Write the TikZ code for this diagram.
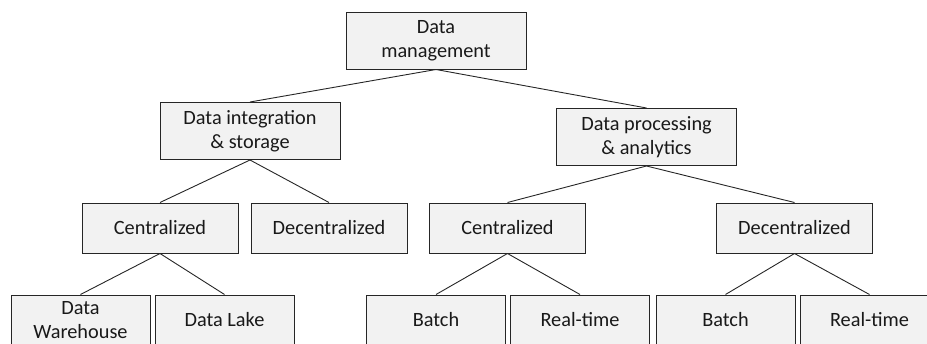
\documentclass[tikz,border=0pt]{standalone}
\usepackage{fontspec}
\setmainfont{Carlito}
\usetikzlibrary{positioning}

\begin{document}
\begin{tikzpicture}[x=1pt,y=-1pt,line width=0.9pt,
                    box/.style={draw=black!85,fill=black!5,line width=1pt,
                      align=center,inner sep=0pt,text=black!90,
                      font=\fontsize{20.3}{24}\selectfont,
                      minimum width=156pt,minimum height=50pt},
                    head/.style={box,minimum width=180pt,minimum height=57pt},
                    leaf/.style={box,minimum width=139pt}]

  \useasboundingbox (0,0) rectangle (927,343);
  \clip (0,0) rectangle (927,343);

  \node[head]  (dm) at (436,40.5)  {Data\\management};
  \node[head]  (di) at (250,131)   {Data integration\\\& storage};
  \node[head]  (dp) at (646.5,137) {Data processing\\\& analytics};

  \node[box]   (c1) at (160,228)   {Centralized};
  \node[box]   (d1) [right=12pt of c1] {Decentralized};
  \node[box]   (c2) at (507.5,228) {Centralized};
  \node[box]   (d2) at (794.5,228) {Decentralized};

  \node[leaf]  (dw) at (80.5,320)  {Data\\Warehouse};
  \node[leaf]  (dl) [right=4pt of dw] {Data Lake};
  \node[leaf]  (b1) at (436,320)   {Batch};
  \node[leaf]  (r1) [right=4pt of b1] {Real-time};
  \node[leaf]  (b2) at (725.5,320) {Batch};
  \node[leaf]  (r2) [right=4pt of b2] {Real-time};

  \path[draw=black!85]
        (dm.south) edge (di.north)
                   edge (dp.north)
        (di.south) edge (c1.north)
                   edge (d1.north)
        (dp.south) edge (c2.north)
                   edge (d2.north)
        (c1.south) edge (dw.north)
                   edge (dl.north)
        (c2.south) edge (b1.north)
                   edge (r1.north)
        (d2.south) edge (b2.north)
                   edge (r2.north);
\end{tikzpicture}
\end{document}
